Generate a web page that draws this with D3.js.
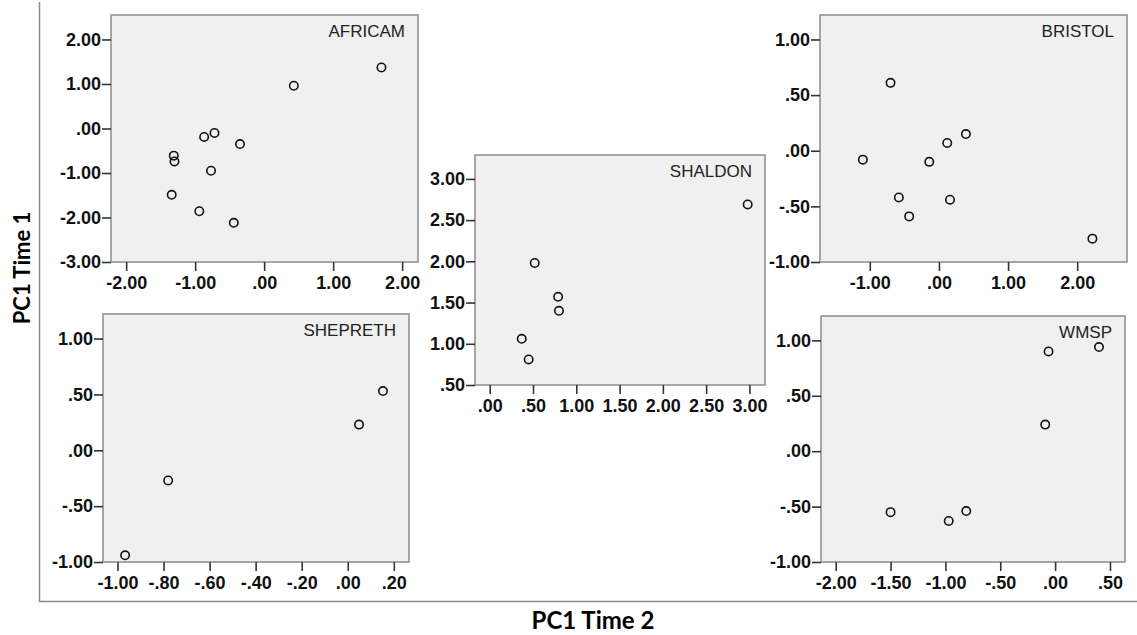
<!DOCTYPE html>
<html>
<head>
<meta charset="utf-8">
<script src="https://d3js.org/d3.v7.min.js"></script>
<style>
  body { margin: 0; background: #fff; }
  svg { display: block; }
</style>
</head>
<body>
<svg id="chart" width="1137" height="635"></svg>
<script>
// values (PC1 time 2 on x, PC1 time 1 on y)
const africamX = [1.70, 0.43, -0.72, -0.87, -0.35, -1.31, -1.30, -0.77, -1.34, -0.94, -0.44];
const africamY = [1.37, 0.96, -0.10, -0.19, -0.35, -0.61, -0.74, -0.95, -1.49, -1.86, -2.12];

const shaldonX = [2.98, 0.52, 0.79, 0.80, 0.37, 0.45];
const shaldonY = [2.69, 1.98, 1.57, 1.40, 1.06, 0.81];

const bristolX = [-0.70, 0.39, 0.12, -1.10, -0.14, -0.58, 0.16, -0.43, 2.22];
const bristolY = [0.61, 0.15, 0.07, -0.08, -0.10, -0.42, -0.44, -0.59, -0.79];

const shepX = [0.153, 0.049, -0.78, -0.967];
const shepY = [0.53, 0.23, -0.27, -0.94];

const wmspX = [0.40, -0.06, -0.09, -1.50, -0.97, -0.81];
const wmspY = [0.94, 0.90, 0.24, -0.55, -0.63, -0.54];

// tick values per panel
const africamXTicks = [-2, -1, 0, 1, 2];
const africamYTicks = [-3, -2, -1, 0, 1, 2];
const shaldonXTicks = [0, 0.5, 1, 1.5, 2, 2.5, 3];
const shaldonYTicks = [0.5, 1, 1.5, 2, 2.5, 3];
const bristolXTicks = [-1, 0, 1, 2];
const bristolYTicks = [-1, -0.5, 0, 0.5, 1];
const shepXTicks = [-1, -0.8, -0.6, -0.4, -0.2, 0, 0.2];
const shepYTicks = [-1, -0.5, 0, 0.5, 1];
const wmspXTicks = [-2, -1.5, -1, -0.5, 0, 0.5];
const wmspYTicks = [-1, -0.5, 0, 0.5, 1];

// panels: data + scale domains, box is the layout in pixels
const panels = [
  { name: "AFRICAM", xs: africamX, ys: africamY, xd: [-2.22, 2.23], yd: [-3, 2.55],
    xt: africamXTicks, yt: africamYTicks, box: [111, 15, 418, 262] },
  { name: "SHALDON", xs: shaldonX, ys: shaldonY, xd: [-0.17, 3.18], yd: [0.5, 3.29],
    xt: shaldonXTicks, yt: shaldonYTicks, box: [475, 155, 765, 385] },
  { name: "BRISTOL", xs: bristolX, ys: bristolY, xd: [-1.72, 2.72], yd: [-1, 1.22],
    xt: bristolXTicks, yt: bristolYTicks, box: [820, 15, 1127, 262] },
  { name: "SHEPRETH", xs: shepX, ys: shepY, xd: [-1.063, 0.266], yd: [-1, 1.22],
    xt: shepXTicks, yt: shepYTicks, box: [103, 314, 409, 562] },
  { name: "WMSP", xs: wmspX, ys: wmspY, xd: [-2.134, 0.637], yd: [-1, 1.22],
    xt: wmspXTicks, yt: wmspYTicks, box: [821, 316, 1125, 562] }
];

// SPSS style numbers: .00, -.50, 1.00
const f2 = d3.format(".2f");
const fmt = v => {
  let s = f2(Math.abs(v) < 1e-9 ? 0 : v).replace("\u2212", "-");
  return s.replace(/^(-?)0\./, "$1.");
};

const sansFont = "Arial, 'Liberation Sans', Helvetica, sans-serif";
const svg = d3.select("#chart");

// outer frame
svg.append("line").attr("x1", 39.5).attr("x2", 39.5).attr("y1", 2).attr("y2", 602)
  .attr("stroke", "#8a8a8a").attr("stroke-width", 1.5);
svg.append("line").attr("x1", 39.5).attr("x2", 1137).attr("y1", 601.5).attr("y2", 601.5)
  .attr("stroke", "#8a8a8a").attr("stroke-width", 1.5);

panels.forEach(p => {
  const [x0, y0, x1, y1] = p.box;
  const x = d3.scaleLinear().domain(p.xd).range([x0, x1]);
  const y = d3.scaleLinear().domain(p.yd).range([y1, y0]);
  const g = svg.append("g");

  g.append("rect")
    .attr("x", x0).attr("y", y0)
    .attr("width", x1 - x0).attr("height", y1 - y0)
    .attr("fill", "#f0f0f0")
    .attr("stroke", "#8c8c8c")
    .attr("stroke-width", 1.5);

  const ax = g.append("g")
    .attr("transform", `translate(0,${y1})`)
    .call(d3.axisBottom(x).tickValues(p.xt).tickFormat(fmt).tickSize(9).tickPadding(4));
  const ay = g.append("g")
    .attr("transform", `translate(${x0},0)`)
    .call(d3.axisLeft(y).tickValues(p.yt).tickFormat(fmt).tickSize(9).tickPadding(1));

  [ax, ay].forEach(a => {
    a.attr("font-family", null).attr("font-size", null);
    a.select(".domain").remove();
    a.selectAll(".tick line").attr("stroke", "#333").attr("stroke-width", 1.6);
    a.selectAll(".tick text")
      .attr("fill", "#111")
      .attr("font-family", sansFont)
      .attr("font-weight", "bold")
      .attr("font-size", 18);
  });
  ax.selectAll(".tick text").attr("dy", "0.8em");

  g.append("text")
    .attr("x", x1 - 13)
    .attr("y", y0 + 22)
    .attr("text-anchor", "end")
    .attr("font-family", sansFont)
    .attr("font-size", 17)
    .attr("fill", "#222")
    .text(p.name);

  g.selectAll("circle")
    .data(d3.zip(p.xs, p.ys))
    .join("circle")
    .attr("cx", d => x(d[0]))
    .attr("cy", d => y(d[1]))
    .attr("r", 4.2)
    .attr("fill", "none")
    .attr("stroke", "#111")
    .attr("stroke-width", 1.6);
});

// axis titles
svg.append("text")
  .attr("transform", "translate(30,268) rotate(-90)")
  .attr("text-anchor", "middle")
  .attr("font-family", "Lato, 'Open Sans', sans-serif")
  .attr("font-weight", "bold")
  .attr("font-size", 22)
  .text("PC1 Time 1");

svg.append("text")
  .attr("x", 593)
  .attr("y", 629)
  .attr("text-anchor", "middle")
  .attr("font-family", "Lato, 'Open Sans', sans-serif")
  .attr("font-weight", "bold")
  .attr("font-size", 24)
  .text("PC1 Time 2");
</script>
</body>
</html>
